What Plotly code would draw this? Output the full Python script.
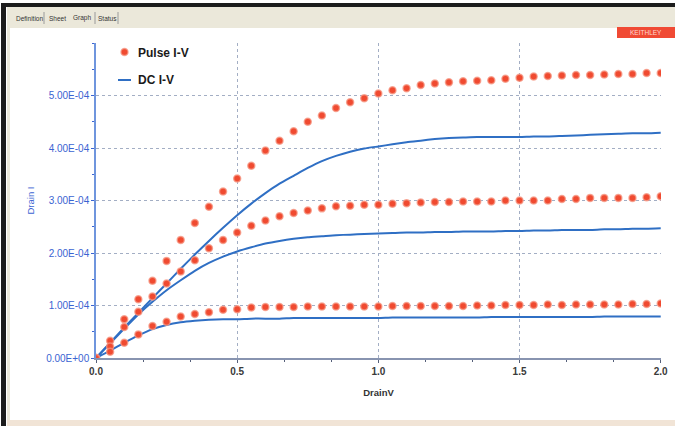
import plotly.graph_objects as go

# ---------------- data ----------------
drain_v = [round(0.05 * i, 2) for i in range(41)]

pulse_high = [0, 0.33, 0.74, 1.12, 1.47, 1.85, 2.25, 2.57, 2.88, 3.17, 3.42, 3.66, 3.95, 4.14, 4.32,
              4.50, 4.62, 4.76, 4.87, 4.95, 5.04, 5.10, 5.14, 5.20, 5.23, 5.25, 5.27, 5.28, 5.29,
              5.32, 5.34, 5.36, 5.37, 5.38, 5.39, 5.39, 5.40, 5.41, 5.41, 5.43, 5.43]
pulse_mid = [0, 0.22, 0.59, 0.88, 1.17, 1.42, 1.65, 1.86, 2.09, 2.25, 2.39, 2.52, 2.62, 2.70, 2.76,
             2.81, 2.85, 2.89, 2.90, 2.92, 2.92, 2.94, 2.95, 2.96, 2.97, 2.97, 2.98, 2.98, 2.98,
             3.00, 3.00, 3.00, 3.00, 3.03, 3.03, 3.05, 3.05, 3.05, 3.05, 3.06, 3.08]
pulse_low = [0, 0.12, 0.29, 0.45, 0.61, 0.69, 0.79, 0.84, 0.87, 0.92, 0.93, 0.96, 0.97, 0.97, 0.97,
             0.98, 0.98, 0.98, 0.98, 0.98, 0.98, 0.99, 0.99, 0.99, 0.99, 0.99, 0.99, 1.00, 1.00,
             1.01, 1.01, 1.01, 1.02, 1.01, 1.02, 1.02, 1.02, 1.02, 1.03, 1.03, 1.04]

dc_high = [0, 0.29, 0.58, 0.86, 1.14, 1.42, 1.70, 1.97, 2.23, 2.48, 2.72, 2.94, 3.14, 3.32, 3.47,
           3.62, 3.75, 3.85, 3.93, 3.99, 4.03, 4.07, 4.11, 4.14, 4.17, 4.19, 4.20, 4.21, 4.21,
           4.21, 4.21, 4.22, 4.22, 4.23, 4.24, 4.25, 4.26, 4.27, 4.28, 4.28, 4.29]
dc_mid = [0, 0.28, 0.56, 0.83, 1.07, 1.29, 1.48, 1.66, 1.81, 1.93, 2.03, 2.11, 2.18, 2.23, 2.27,
          2.30, 2.32, 2.34, 2.35, 2.36, 2.37, 2.38, 2.39, 2.39, 2.40, 2.40, 2.41, 2.41, 2.41,
          2.42, 2.42, 2.43, 2.43, 2.44, 2.44, 2.44, 2.45, 2.45, 2.46, 2.46, 2.47]
dc_low = [0, 0.14, 0.29, 0.43, 0.55, 0.63, 0.68, 0.71, 0.73, 0.74, 0.74, 0.75, 0.75, 0.75, 0.76,
          0.76, 0.76, 0.76, 0.76, 0.76, 0.76, 0.77, 0.77, 0.77, 0.77, 0.77, 0.77, 0.77, 0.78,
          0.78, 0.78, 0.78, 0.78, 0.78, 0.78, 0.78, 0.79, 0.79, 0.79, 0.79, 0.79]

SCALE = 1e-4
y_tickvals = [0, 1e-4, 2e-4, 3e-4, 4e-4, 5e-4]
y_ticktext = ["0.00E+00", "1.00E-04", "2.00E-04", "3.00E-04", "4.00E-04", "5.00E-04"]
x_tickvals = [0.0, 0.5, 1.0, 1.5, 2.0]
x_ticktext = ["0.0", "0.5", "1.0", "1.5", "2.0"]
tabs = ["Definition", "Sheet", "Graph", "Status"]
legend_labels = ["Pulse I-V", "DC I-V"]

# ---------------- styling ----------------
W, H = 675, 426
L, R, T, B = 96, 14, 43, 68
PW, PH = W - L - R, H - T - B
BLUE = "#2f6fc4"
RED = "rgb(240,74,48)"
AXBLUE = "#3a64d2"
FONT = "Liberation Sans, Arial, sans-serif"


def xp(px):
    return (px - L) / PW


def yp(py):
    return (H - B - py) / PH


fig = go.Figure()
for series in (dc_high, dc_mid, dc_low):
    fig.add_trace(go.Scatter(x=drain_v, y=[v * SCALE for v in series], mode="lines",
                             line=dict(color=BLUE, width=2, shape="spline", smoothing=0.5),
                             showlegend=False, name=legend_labels[1]))
for series in (pulse_high, pulse_mid, pulse_low):
    fig.add_trace(go.Scatter(x=drain_v, y=[v * SCALE for v in series], mode="markers",
                             marker=dict(color=RED, size=7,
                                         line=dict(color="rgba(246,150,130,0.75)", width=1.5)),
                             showlegend=False, name=legend_labels[0]))

shapes = [
    # window chrome
    dict(type="rect", xref="paper", yref="paper", x0=xp(7), x1=xp(W), y0=yp(7), y1=yp(28),
         fillcolor="#ebe8da", line=dict(width=0), layer="below"),
    dict(type="rect", xref="paper", yref="paper", x0=xp(7), x1=xp(10), y0=yp(28), y1=yp(420),
         fillcolor="#ebe8da", line=dict(width=0), layer="below"),
    dict(type="rect", xref="paper", yref="paper", x0=xp(7), x1=xp(W), y0=yp(420), y1=yp(H),
         fillcolor="#f1e4d6", line=dict(width=0), layer="below"),
    dict(type="rect", xref="paper", yref="paper", x0=xp(1), x1=xp(W), y0=yp(3), y1=yp(7),
         fillcolor="#1c1c1c", line=dict(width=0), layer="below"),
    dict(type="rect", xref="paper", yref="paper", x0=xp(1), x1=xp(6), y0=yp(3), y1=yp(H),
         fillcolor="#1c1c1c", line=dict(width=0), layer="below"),
    # logo box
    dict(type="rect", xref="paper", yref="paper", x0=xp(617), x1=xp(W), y0=yp(27), y1=yp(38),
         fillcolor="#f04a34", line=dict(width=0)),
    # legend symbols
    dict(type="circle", xref="paper", yref="paper", x0=xp(121), x1=xp(128), y0=yp(48.5), y1=yp(55.5),
         fillcolor=RED, line=dict(color="rgba(246,150,130,0.75)", width=1.5)),
    dict(type="line", xref="paper", yref="paper", x0=xp(118), x1=xp(131), y0=yp(80), y1=yp(80),
         line=dict(color=BLUE, width=2)),
]
for sx in (44, 95, 118):
    shapes.append(dict(type="line", xref="paper", yref="paper", x0=xp(sx), x1=xp(sx),
                       y0=yp(12), y1=yp(24), line=dict(color="#9a9a9a", width=1)))

annotations = []
for label, cx in zip(tabs, (29, 57, 82, 107)):
    annotations.append(dict(text=label, xref="paper", yref="paper", x=xp(cx), y=yp(18),
                            showarrow=False, xanchor="center", yanchor="middle",
                            font=dict(family=FONT, size=6.5, color="#333333")))
annotations.append(dict(text="KEITHLEY", xref="paper", yref="paper", x=xp(646), y=yp(32.5),
                        showarrow=False, xanchor="center", yanchor="middle",
                        font=dict(family=FONT, size=6.5, color="#ffd8d0")))
for label, cy in zip(legend_labels, (52.5, 80)):
    annotations.append(dict(text="<b>%s</b>" % label, xref="paper", yref="paper", x=xp(136),
                            y=yp(cy), showarrow=False, xanchor="left", yanchor="middle",
                            font=dict(family=FONT, size=12, color="#1a1a1a")))

fig.update_layout(
    width=W, height=H,
    margin=dict(l=L, r=R, t=T, b=B, autoexpand=False),
    paper_bgcolor="white", plot_bgcolor="white",
    showlegend=False,
    shapes=shapes, annotations=annotations,
    xaxis=dict(range=[0, 2.001], tickvals=x_tickvals, ticktext=x_ticktext,
               showgrid=True, gridcolor="#a3aec4", griddash="dot", gridwidth=1,
               zeroline=False, showline=True, linecolor="#8894b0", linewidth=1.5,
               ticks="outside", ticklen=3, tickcolor="#55607a",
               minor=dict(tickvals=[i / 6 for i in range(13)], ticks="outside", ticklen=2,
                          tickcolor="#55607a", showgrid=False),
               tickfont=dict(family=FONT, size=10, color="#3a3a3a", weight="bold"),
               title=dict(text="DrainV", standoff=14,
                          font=dict(family=FONT, size=9.5, color="#333333", weight="bold")),
               fixedrange=True),
    yaxis=dict(range=[0, 6.0e-4], tickvals=y_tickvals, ticktext=y_ticktext,
               showgrid=True, gridcolor="#a3aec4", griddash="dot", gridwidth=1,
               zeroline=False, showline=True, linecolor="#6f95dd", linewidth=1.5,
               ticks="outside", ticklen=3, tickcolor=AXBLUE,
               minor=dict(dtick=0.5e-4, tick0=0, ticks="outside", ticklen=2,
                          tickcolor=AXBLUE, showgrid=False),
               tickfont=dict(family=FONT, size=10, color=AXBLUE),
               title=dict(text="Drain I", standoff=10,
                          font=dict(family=FONT, size=9.5, color=AXBLUE)),
               fixedrange=True),
)

fig.write_html("out.html", config={"displayModeBar": False},
               post_script="document.body.style.margin='0';document.body.style.overflow='hidden';")
